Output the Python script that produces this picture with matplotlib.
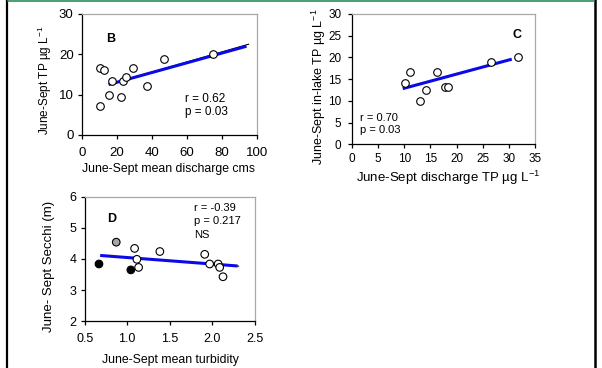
import matplotlib
matplotlib.use('Agg')
import matplotlib.pyplot as plt
from matplotlib.lines import Line2D

plt.rcParams['font.family'] = ['Liberation Sans', 'DejaVu Sans']
plt.rcParams['mathtext.fontset'] = 'custom'
plt.rcParams['mathtext.rm'] = 'Liberation Sans'
plt.rcParams['mathtext.it'] = 'Liberation Sans:italic'
plt.rcParams['font.size'] = 8

# panel B: discharge vs in-lake TP
b_x = [10.3, 12.8, 17.1, 23.6, 25.1, 29.0, 15.2, 10.1, 22.3, 36.8, 47.0, 74.9]
b_y = [16.7, 16.1, 13.3, 13.3, 14.3, 16.7, 10.0, 7.2, 9.4, 12.2, 18.9, 20.2]
b_fit_x = [16, 93]
b_fit_y = [12.6, 21.9]
b_trend_x = [16, 95]
b_trend_y = [12.6, 22.5]

# panel C: discharge TP vs in-lake TP
c_x = [10.2, 11.1, 13.0, 14.1, 16.3, 17.7, 18.4, 26.5, 31.6]
c_y = [14.2, 16.7, 10.0, 12.4, 16.7, 13.3, 13.3, 19.0, 20.1]
c_fit_x = [10.0, 30.2]
c_fit_y = [12.9, 19.5]

# panel D: turbidity vs Secchi
d_x = [0.668, 0.871, 1.043, 1.087, 1.114, 1.134, 1.384, 1.912, 1.97, 2.07, 2.088, 2.127]
d_y = [3.84, 4.54, 3.65, 4.34, 3.99, 3.73, 4.24, 4.15, 3.84, 3.84, 3.73, 3.43]
d_fill = ['black', '#a6a6a6', 'black', 'white', 'white', 'white', 'white',
          'white', 'white', 'white', 'white', 'white']
d_fit_x = [0.70, 2.28]
d_fit_y = [4.11, 3.78]
d_trend_x = [0.70, 2.31]
d_trend_y = [4.11, 3.77]


def style(ax, size, xpad, ypad):
    for s in ['top', 'right']:
        ax.spines[s].set_color('#a8a8a8')
        ax.spines[s].set_linewidth(0.9)
    for s in ['left', 'bottom']:
        ax.spines[s].set_linewidth(0.9)
    ax.tick_params(direction='out', length=3, width=0.9, labelsize=size)
    ax.tick_params(axis='x', pad=xpad)
    ax.tick_params(axis='y', pad=ypad)


fig = plt.figure(figsize=(6.02, 3.68), dpi=100)

ax = fig.add_axes([0.1362, 0.6332, 0.2912, 0.3288])
ax.plot(b_trend_x, b_trend_y, color='black', lw=0.8)
ax.plot(b_fit_x, b_fit_y, color='#0a0ae6', lw=2.2)
ax.scatter(b_x, b_y, s=30, facecolor='white', edgecolor='black', lw=0.8, zorder=3)
ax.set_xlim(0, 100)
ax.set_ylim(0, 30)
ax.set_xticks(range(0, 101, 20))
ax.set_yticks(range(0, 31, 10))
ax.set_xlabel('June-Sept mean discharge cms', fontsize=8.8)
ax.set_ylabel('June-Sept TP µg L$^{-1}$', fontsize=8.5)
ax.xaxis.set_label_coords(0.493, -0.235)
ax.yaxis.set_label_coords(-0.16, 0.455)
ax.text(14, 23, 'B', fontweight='bold', fontsize=9)
ax.text(59, 9, 'r = 0.62', fontsize=8.5, va='center')
ax.text(59, 5.8, 'p = 0.03', fontsize=8.5, va='center')
style(ax, 9.5, 6, 3)

ax = fig.add_axes([0.5842, 0.6079, 0.3053, 0.3541])
ax.plot(c_fit_x, c_fit_y, color='#0a0ae6', lw=2.2)
ax.scatter(c_x, c_y, s=30, facecolor='white', edgecolor='black', lw=0.8, zorder=3)
ax.set_xlim(0, 35)
ax.set_ylim(0, 30)
ax.set_xticks(range(0, 36, 5))
ax.set_yticks(range(0, 31, 5))
ax.set_xlabel('June-Sept discharge TP µg L$^{-1}$', fontsize=9.5)
ax.set_ylabel('June-Sept in-lake TP µg L$^{-1}$', fontsize=9)
ax.xaxis.set_label_coords(0.527, -0.19)
ax.yaxis.set_label_coords(-0.13, 0.445)
ax.text(31.4, 25.2, 'C', fontweight='bold', fontsize=9, ha='center', va='center')
ax.text(1.6, 6, 'r = 0.70', fontsize=8, va='center')
ax.text(1.6, 3.3, 'p = 0.03', fontsize=8, va='center')
style(ax, 8.5, 3.5, 4.5)

ax = fig.add_axes([0.1407, 0.1269, 0.2824, 0.3386])
ax.plot(d_trend_x, d_trend_y, color='black', lw=0.8)
ax.plot(d_fit_x, d_fit_y, color='#0a0ae6', lw=2.2)
ax.scatter(d_x, d_y, s=30, c=d_fill, edgecolor='black', lw=0.8, zorder=3)
ax.set_xlim(0.5, 2.5)
ax.set_ylim(2, 6)
ax.set_xticks([0.5, 1.0, 1.5, 2.0, 2.5])
ax.set_yticks([2, 3, 4, 5, 6])
ax.set_xlabel('June-Sept mean turbidity', fontsize=8.8)
ax.set_ylabel('June- Sept Secchi (m)', fontsize=9.5)
ax.xaxis.set_label_coords(0.502, -0.262)
ax.yaxis.set_label_coords(-0.175, 0.44)
ax.text(0.76, 5.27, 'D', fontweight='bold', fontsize=9, va='center')
ax.text(1.79, 5.65, 'r = -0.39', fontsize=8, va='center')
ax.text(1.79, 5.21, 'p = 0.217', fontsize=8, va='center')
ax.text(1.79, 4.78, 'NS', fontsize=8, va='center')
style(ax, 9, 5.5, 3)

# slide frame
fig.add_artist(Line2D([7 / 602, 7 / 602], [0, 1], color='black', lw=1.6))
fig.add_artist(Line2D([594.5 / 602, 594.5 / 602], [0, 1], color='black', lw=1.8))
fig.add_artist(Line2D([8 / 602, 594 / 602], [367.2 / 368, 367.2 / 368], color='#2e8b57', lw=1.2))

fig.savefig('out.png', dpi=100)
